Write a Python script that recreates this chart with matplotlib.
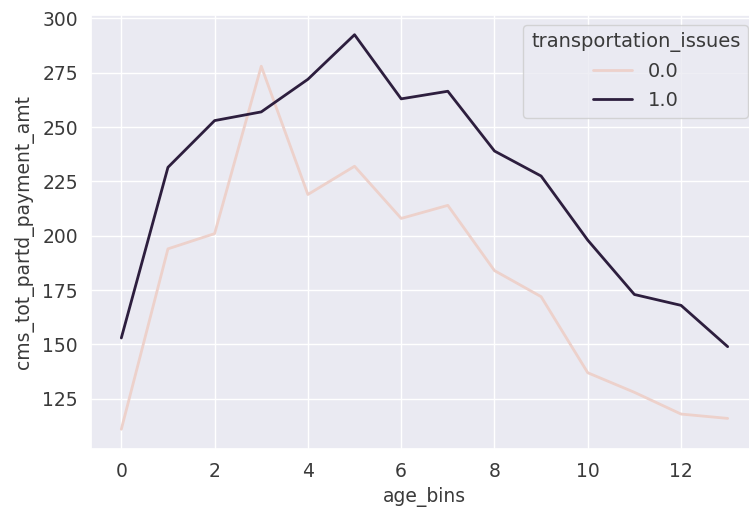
import numpy as np
import pandas as pd
import seaborn as sns
import matplotlib.pyplot as plt

age_bins = list(range(14))
payment_no_issue = [111, 194, 201, 278, 219, 232, 208, 214, 184, 172, 137, 128, 118, 116]
payment_issue = [153, 231.5, 253, 257, 272, 292.5, 263, 266.5, 239, 227.5, 198, 173, 168, 149]

df = pd.DataFrame({
    "age_bins": age_bins * 2,
    "cms_tot_partd_payment_amt": payment_no_issue + payment_issue,
    "transportation_issues": [0.0] * 14 + [1.0] * 14,
})

sns.set_theme(style="darkgrid")
plt.rcParams["font.family"] = ["DejaVu Sans"]

fig = plt.figure(figsize=(7.49, 5.21), dpi=100)
ax = fig.add_axes([91 / 749, 72 / 521, 667 / 749, 434 / 521])
sns.lineplot(data=df, x="age_bins", y="cms_tot_partd_payment_amt",
             hue="transportation_issues", ax=ax, linewidth=2,
             palette=sns.cubehelix_palette(as_cmap=True), hue_norm=(0, 1))

ax.tick_params(labelsize=13.5, labelcolor="#3a3a3a")
ax.set_xlabel("age_bins", fontsize=13.5, color="#3a3a3a")
ax.set_ylabel("cms_tot_partd_payment_amt", fontsize=13.5, color="#3a3a3a", labelpad=6)
leg = ax.legend(title="transportation_issues", fontsize=14, title_fontsize=14,
                loc="upper right", labelcolor="#3a3a3a")
leg.get_title().set_color("#3a3a3a")

fig.savefig("out.png", dpi=100)
